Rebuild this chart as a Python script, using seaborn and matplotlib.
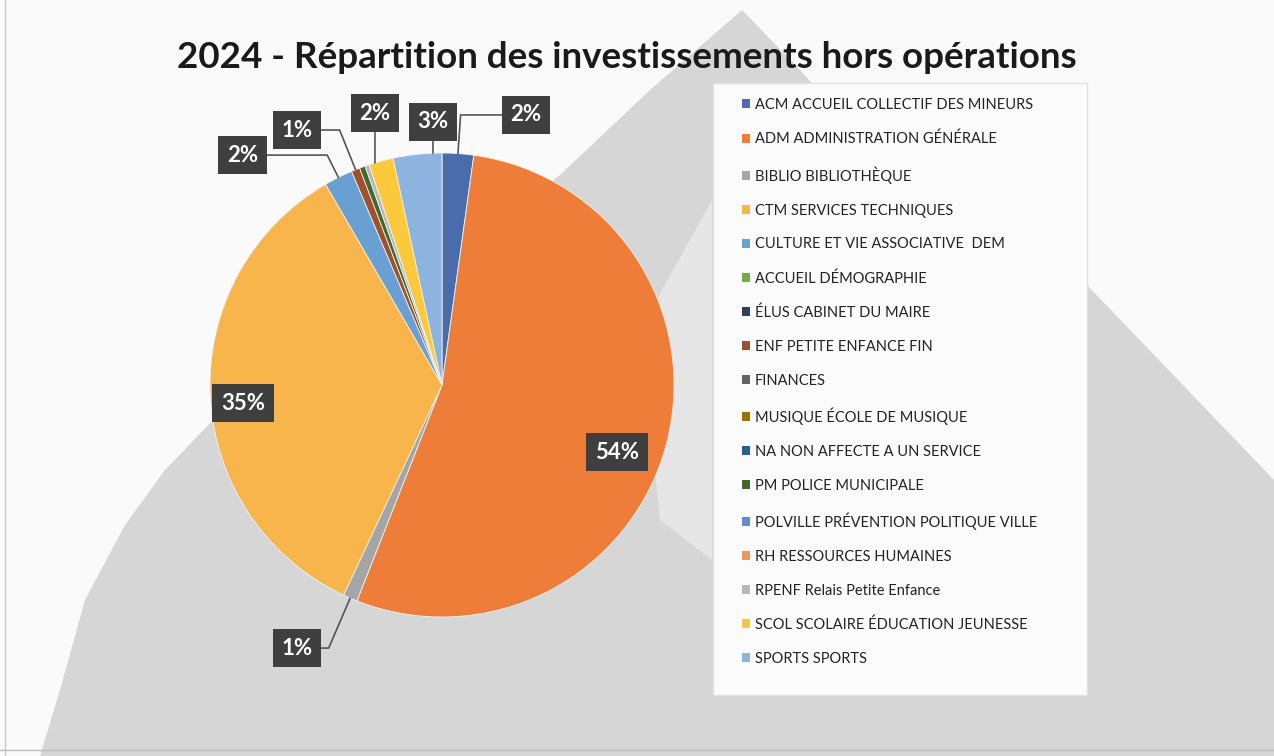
import numpy as np
import pandas as pd
import matplotlib
matplotlib.use("Agg")
import matplotlib.pyplot as plt
import seaborn as sns
from matplotlib.patches import Polygon, Rectangle, Patch
from matplotlib.lines import Line2D

# data (share of investments, %)
codes = ["ACM", "ADM", "BIBLIO", "CTM", "CULTURE", "ACCUEIL", "ELUS", "ENF",
         "FINANCES", "MUSIQUE", "NA", "PM", "POLVILLE", "RH", "RPENF", "SCOL", "SPORTS"]
services = ["ACM ACCUEIL COLLECTIF DES MINEURS",
            "ADM ADMINISTRATION GÉNÉRALE",
            "BIBLIO BIBLIOTHÈQUE",
            "CTM SERVICES TECHNIQUES",
            "CULTURE ET VIE ASSOCIATIVE  DEM",
            "ACCUEIL DÉMOGRAPHIE",
            "ÉLUS CABINET DU MAIRE",
            "ENF PETITE ENFANCE FIN",
            "FINANCES",
            "MUSIQUE ÉCOLE DE MUSIQUE",
            "NA NON AFFECTE A UN SERVICE",
            "PM POLICE MUNICIPALE",
            "POLVILLE PRÉVENTION POLITIQUE VILLE",
            "RH RESSOURCES HUMAINES",
            "RPENF Relais Petite Enfance",
            "SCOL SCOLAIRE ÉDUCATION JEUNESSE",
            "SPORTS SPORTS"]
parts = [2.2, 54.0, 1.0, 34.8, 2.0, 0.0, 0.0, 0.6, 0.0, 0.0, 0.0, 0.4, 0.0, 0.0, 0.3, 1.7, 3.4]

colours = ["#4a6cac", "#ee7d3a", "#a5a5a5", "#f8b54c", "#6a9fd2", "#70ad47",
           "#2f3f5c", "#a0502a", "#636363", "#997300", "#2b5f8c", "#43682b",
           "#6b89c8", "#f1975a", "#b7b7b7", "#fcc83c", "#8cb4de"]

df = pd.DataFrame({"code": codes, "service": services, "part": parts, "colour": colours})

sns.set_theme(style="white")
plt.rcParams["font.family"] = ["Lato", "DejaVu Sans"]

W, H = 1274, 756
fig = plt.figure(figsize=(W / 100, H / 100), dpi=100, facecolor="#fafafa")


def fx(x):
    return x / W


def fy(y):
    return 1 - y / H


# scanned slide background: grey "mountain" shape
mountain = [(40, 756), (60, 690), (85, 600), (125, 525), (165, 470), (300, 330),
            (460, 250), (560, 175), (650, 90), (742, 10), (800, 70), (880, 160),
            (1000, 240), (1087, 285), (1274, 480), (1274, 756)]
fig.patches.append(Polygon([(fx(x), fy(y)) for x, y in mountain], closed=True,
                           transform=fig.transFigure, fc="#d6d6d6", ec="none", zorder=-3))
fig.patches.append(Polygon([(fx(x), fy(y)) for x, y in [(640, 330), (712, 200), (712, 560), (660, 520)]],
                           closed=True, transform=fig.transFigure, fc="#e6e6e6", ec="none", zorder=-2))
# legend panel
fig.patches.append(Rectangle((fx(713), fy(695)), fx(1087) - fx(713), fy(83) - fy(695),
                             transform=fig.transFigure, fc="#fbfbfb", ec="#e2e2e2", lw=1, zorder=-1))
# scan edges
fig.lines.append(Line2D([fx(5), fx(5)], [0, 1], transform=fig.transFigure, color="#c8c8c8", lw=1))
fig.lines.append(Line2D([0, 1], [fy(750), fy(750)], transform=fig.transFigure, color="#bdbdbd", lw=1))

# pie axes: centre (442, 385) px, radius 232 px
R, CX, CY, L = 232, 442, 385, 1.45
side = 2 * L * R
ax = fig.add_axes([fx(CX - side / 2), fy(CY + side / 2), side / W, side / H])
ax.set_facecolor("none")
ax.set_zorder(2)

shown = df[df["part"] > 0].reset_index(drop=True)
wedges, _ = ax.pie(shown["part"], colors=shown["colour"], startangle=90, counterclock=False,
                   radius=1, wedgeprops=dict(linewidth=0.6, edgecolor="#f2f2f2"))
ax.set_xlim(-L, L)
ax.set_ylim(-L, L)
ax.set_aspect("equal")
ax.axis("off")

# data labels (position in pie radius units, connector side)
label_pos = {
    "ADM": ((0.754, -0.289), None),
    "CTM": ((-0.858, -0.078), None),
    "BIBLIO": ((-0.625, -1.134), "right"),
    "CULTURE": ((-0.858, 0.991), "right"),
    "ENF": ((-0.625, 1.099), "right"),
    "SCOL": ((-0.289, 1.172), "bottom"),
    "SPORTS": ((-0.039, 1.134), "bottom"),
    "ACM": ((0.362, 1.164), "left"),
}
total = shown["part"].sum()
box = dict(boxstyle="square,pad=0.4", fc="#3f3f3f", ec="none")
for w, (_, row) in zip(wedges, shown.iterrows()):
    if row["code"] not in label_pos:
        continue
    (tx, ty), side_ = label_pos[row["code"]]
    mid = np.deg2rad((w.theta1 + w.theta2) / 2)
    ex, ey = np.cos(mid), np.sin(mid)
    txt = f"{round(row['part'] / total * 100)}%"
    kw = dict(ha="center", va="center", color="white", fontsize=16, fontweight="bold",
              bbox=box, zorder=5)
    if side_ is None:
        ax.text(tx, ty, txt, **kw)
        continue
    if side_ == "bottom":
        ex, ey = tx, np.sqrt(max(1 - tx ** 2, 0))
        arrow = dict(arrowstyle="-", color="#555555", lw=1.2, shrinkA=0, shrinkB=0, relpos=(0.5, 0))
    else:
        relpos = (1, 0.5) if side_ == "right" else (0, 0.5)
        arrow = dict(arrowstyle="-", color="#555555", lw=1.2, shrinkA=0, shrinkB=0, relpos=relpos,
                     connectionstyle=f"angle,angleA=0,angleB={np.rad2deg(mid):.1f},rad=0")
    ax.annotate(txt, xy=(ex, ey), xytext=(tx, ty), arrowprops=arrow, **kw)

fig.text(fx(627), fy(57), "2024 - Répartition des investissements hors opérations",
         ha="center", va="center", fontsize=26.5, fontweight="bold", color="#1a1a1a", zorder=3)

handles = [Patch(facecolor=c, edgecolor="none") for c in df["colour"]]
leg = fig.legend(handles, df["service"], loc="upper left",
                 bbox_to_anchor=(fx(742), fy(98)), frameon=False,
                 handlelength=0.55, handleheight=0.55, handletextpad=0.35,
                 labelspacing=1.36, borderpad=0, borderaxespad=0,
                 prop=dict(family=["Lato", "DejaVu Sans"], size=10.5))
leg.set_zorder(3)
for t in leg.get_texts():
    t.set_color("#222222")

fig.savefig("out.png", dpi=100, facecolor=fig.get_facecolor())
